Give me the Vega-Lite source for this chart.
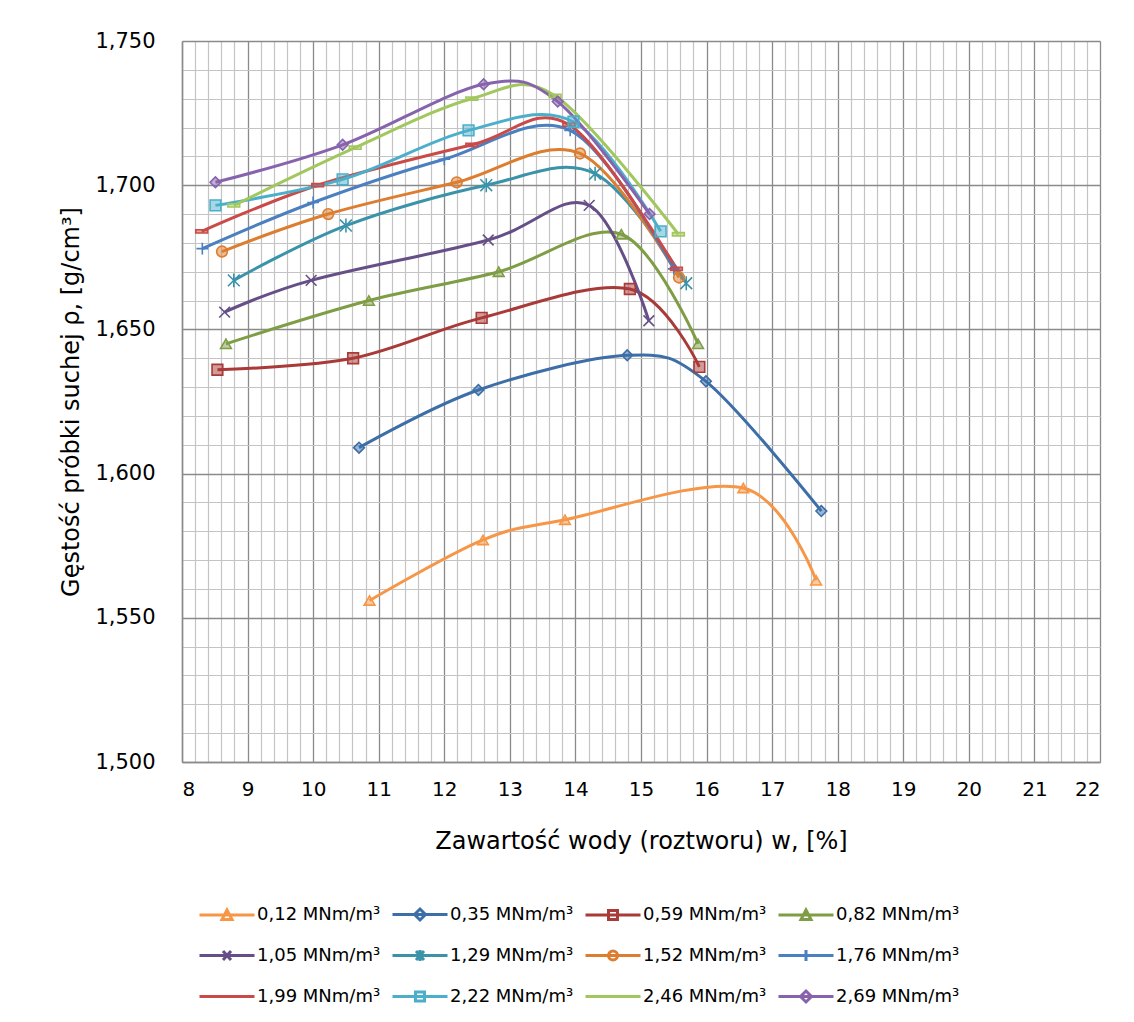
{
  "$schema": "https://vega.github.io/schema/vega-lite/v6.json",
  "width": 918,
  "height": 721,
  "autosize": {"type": "none"},
  "padding": {"left": 182, "top": 41, "right": 34, "bottom": 260},
  "background": "white",
  "config": {
    "view": {"stroke": null},
    "font": "DejaVu Sans",
    "axis": {"labelColor": "#000000", "titleColor": "#000000", "titleFontWeight": "normal"}
  },
  "data": {
    "values": [
      {"s": "0,12 MNm/m³", "w": 10.86, "rho": 1.556},
      {"s": "0,12 MNm/m³", "w": 12.59, "rho": 1.577},
      {"s": "0,12 MNm/m³", "w": 13.84, "rho": 1.584},
      {"s": "0,12 MNm/m³", "w": 16.56, "rho": 1.595},
      {"s": "0,12 MNm/m³", "w": 17.67, "rho": 1.563},
      {"s": "0,35  MNm/m³", "w": 10.70, "rho": 1.609},
      {"s": "0,35  MNm/m³", "w": 12.52, "rho": 1.629},
      {"s": "0,35  MNm/m³", "w": 14.79, "rho": 1.641},
      {"s": "0,35  MNm/m³", "w": 15.99, "rho": 1.632},
      {"s": "0,35  MNm/m³", "w": 17.75, "rho": 1.587},
      {"s": "0,59  MNm/m³", "w": 8.54, "rho": 1.636},
      {"s": "0,59  MNm/m³", "w": 10.61, "rho": 1.640},
      {"s": "0,59  MNm/m³", "w": 12.57, "rho": 1.654},
      {"s": "0,59  MNm/m³", "w": 14.83, "rho": 1.664},
      {"s": "0,59  MNm/m³", "w": 15.89, "rho": 1.637},
      {"s": "0,82 MNm/m³", "w": 8.67, "rho": 1.645},
      {"s": "0,82 MNm/m³", "w": 10.85, "rho": 1.660},
      {"s": "0,82 MNm/m³", "w": 12.83, "rho": 1.670},
      {"s": "0,82 MNm/m³", "w": 14.70, "rho": 1.683},
      {"s": "0,82 MNm/m³", "w": 15.87, "rho": 1.645},
      {"s": "1,05  MNm/m³", "w": 8.65, "rho": 1.656},
      {"s": "1,05  MNm/m³", "w": 9.97, "rho": 1.667},
      {"s": "1,05  MNm/m³", "w": 12.67, "rho": 1.681},
      {"s": "1,05  MNm/m³", "w": 14.21, "rho": 1.693},
      {"s": "1,05  MNm/m³", "w": 15.12, "rho": 1.653},
      {"s": "1,29 MNm/m³", "w": 8.79, "rho": 1.667},
      {"s": "1,29 MNm/m³", "w": 10.50, "rho": 1.686},
      {"s": "1,29 MNm/m³", "w": 12.64, "rho": 1.700},
      {"s": "1,29 MNm/m³", "w": 14.30, "rho": 1.704},
      {"s": "1,29 MNm/m³", "w": 15.69, "rho": 1.666},
      {"s": "1,52 MNm/m³", "w": 8.61, "rho": 1.677},
      {"s": "1,52 MNm/m³", "w": 10.23, "rho": 1.690},
      {"s": "1,52 MNm/m³", "w": 12.19, "rho": 1.701},
      {"s": "1,52 MNm/m³", "w": 14.07, "rho": 1.711},
      {"s": "1,52 MNm/m³", "w": 15.58, "rho": 1.668},
      {"s": "1,76  MNm/m³", "w": 8.31, "rho": 1.678},
      {"s": "1,76  MNm/m³", "w": 10.00, "rho": 1.694},
      {"s": "1,76  MNm/m³", "w": 12.00, "rho": 1.709},
      {"s": "1,76  MNm/m³", "w": 13.92, "rho": 1.719},
      {"s": "1,76  MNm/m³", "w": 15.50, "rho": 1.671},
      {"s": "1,99  MNm/m³", "w": 8.30, "rho": 1.684},
      {"s": "1,99  MNm/m³", "w": 10.07, "rho": 1.700},
      {"s": "1,99  MNm/m³", "w": 12.42, "rho": 1.714},
      {"s": "1,99  MNm/m³", "w": 13.90, "rho": 1.721},
      {"s": "1,99  MNm/m³", "w": 15.54, "rho": 1.671},
      {"s": "2,22  MNm/m³", "w": 8.51, "rho": 1.693},
      {"s": "2,22  MNm/m³", "w": 10.45, "rho": 1.702},
      {"s": "2,22  MNm/m³", "w": 12.37, "rho": 1.719},
      {"s": "2,22  MNm/m³", "w": 13.97, "rho": 1.722},
      {"s": "2,22  MNm/m³", "w": 15.30, "rho": 1.684},
      {"s": "2,46  MNm/m³", "w": 8.79, "rho": 1.693},
      {"s": "2,46  MNm/m³", "w": 10.64, "rho": 1.713},
      {"s": "2,46  MNm/m³", "w": 12.42, "rho": 1.730},
      {"s": "2,46  MNm/m³", "w": 13.69, "rho": 1.731},
      {"s": "2,46  MNm/m³", "w": 15.57, "rho": 1.683},
      {"s": "2,69  MNm/m³", "w": 8.51, "rho": 1.701},
      {"s": "2,69  MNm/m³", "w": 10.45, "rho": 1.714},
      {"s": "2,69  MNm/m³", "w": 12.60, "rho": 1.735},
      {"s": "2,69  MNm/m³", "w": 13.73, "rho": 1.729},
      {"s": "2,69  MNm/m³", "w": 15.13, "rho": 1.690}
    ]
  },
  "layer": [
    {
      "mark": {"type": "line", "interpolate": "cardinal", "strokeWidth": 3},
      "encoding": {
        "x": {"field": "w", "type": "quantitative", "scale": {"domain": [8, 22], "nice": false, "zero": false},
          "axis": {"orient": "top", "values": [8.2,8.4,8.6,8.8,9.2,9.4,9.6,9.8,10.2,10.4,10.6,10.8,11.2,11.4,11.6,11.8,12.2,12.4,12.6,12.8,13.2,13.4,13.6,13.8,14.2,14.4,14.6,14.8,15.2,15.4,15.6,15.8,16.2,16.4,16.6,16.8,17.2,17.4,17.6,17.8,18.2,18.4,18.6,18.8,19.2,19.4,19.6,19.8,20.2,20.4,20.6,20.8,21.2,21.4,21.6,21.8],
            "grid": true, "gridColor": "#c4c4c4", "gridWidth": 1.2, "labels": false, "ticks": false, "domain": false, "title": null}},
        "y": {"field": "rho", "type": "quantitative", "scale": {"domain": [1.5, 1.75], "nice": false, "zero": false},
          "axis": {"orient": "right", "values": [1.51,1.52,1.53,1.54,1.56,1.57,1.58,1.59,1.61,1.62,1.63,1.64,1.66,1.67,1.68,1.69,1.71,1.72,1.73,1.74],
            "grid": true, "gridColor": "#c4c4c4", "gridWidth": 1.2, "labels": false, "ticks": false, "domain": false, "title": null}},
        "color": {"field": "s", "type": "nominal", "legend": null,
          "scale": {"domain": ["0,12 MNm/m³","0,35  MNm/m³","0,59  MNm/m³","0,82 MNm/m³","1,05  MNm/m³","1,29 MNm/m³","1,52 MNm/m³","1,76  MNm/m³","1,99  MNm/m³","2,22  MNm/m³","2,46  MNm/m³","2,69  MNm/m³"],
            "range": ["#F79646","#3C6EA8","#A83A38","#7E9D45","#664F87","#3A93A9","#DC7D2F","#4A7FC0","#C94A47","#4BAFCC","#A2C75E","#8663AC"]}}
      }
    },
    {
      "mark": {"type": "point", "filled": true, "fillOpacity": 0.5, "strokeWidth": 1.6, "opacity": 1, "size": 115},
      "encoding": {
        "x": {"field": "w", "type": "quantitative", "scale": {"domain": [8, 22], "nice": false, "zero": false},
          "axis": {"orient": "bottom", "values": [8,9,10,11,12,13,14,15,16,17,18,19,20,21,22],
            "grid": true, "gridColor": "#8a8a8a", "gridWidth": 1.3, "ticks": false, "domain": true, "domainColor": "#8a8a8a", "domainWidth": 1.5,
            "labelFontSize": 20, "labelPadding": 17, "title": "Zawartość wody (roztworu) w, [%]", "titleFontSize": 24, "titlePadding": 30}},
        "y": {"field": "rho", "type": "quantitative", "scale": {"domain": [1.5, 1.75], "nice": false, "zero": false},
          "axis": {"orient": "left", "values": [1.5,1.55,1.6,1.65,1.7,1.75],
            "grid": true, "gridColor": "#8a8a8a", "gridWidth": 1.3, "ticks": false, "domain": true, "domainColor": "#8a8a8a", "domainWidth": 1.5,
            "labelExpr": "replace(format(datum.value, '.3f'), '.', ',')",
            "labelFontSize": 21, "labelPadding": 27, "title": "Gęstość próbki suchej ρ, [g/cm³]", "titleFontSize": 24, "titlePadding": 11}},
        "fill": {"field": "s", "type": "nominal", "legend": null,
          "scale": {"domain": ["0,12 MNm/m³","0,35  MNm/m³","0,59  MNm/m³","0,82 MNm/m³","1,05  MNm/m³","1,29 MNm/m³","1,52 MNm/m³","1,76  MNm/m³","1,99  MNm/m³","2,22  MNm/m³","2,46  MNm/m³","2,69  MNm/m³"],
            "range": ["#F79646","#3C6EA8","#A83A38","#7E9D45","#664F87","#3A93A9","#DC7D2F","#4A7FC0","#C94A47","#4BAFCC","#A2C75E","#8663AC"]}},
        "stroke": {"field": "s", "type": "nominal", "legend": null,
          "scale": {"domain": ["0,12 MNm/m³","0,35  MNm/m³","0,59  MNm/m³","0,82 MNm/m³","1,05  MNm/m³","1,29 MNm/m³","1,52 MNm/m³","1,76  MNm/m³","1,99  MNm/m³","2,22  MNm/m³","2,46  MNm/m³","2,69  MNm/m³"],
            "range": ["#F79646","#3C6EA8","#A83A38","#7E9D45","#664F87","#3A93A9","#DC7D2F","#4A7FC0","#C94A47","#4BAFCC","#A2C75E","#8663AC"]}},
        "shape": {"field": "s", "type": "nominal", "legend": null,
          "scale": {"domain": ["0,12 MNm/m³","0,35  MNm/m³","0,59  MNm/m³","0,82 MNm/m³","1,05  MNm/m³","1,29 MNm/m³","1,52 MNm/m³","1,76  MNm/m³","1,99  MNm/m³","2,22  MNm/m³","2,46  MNm/m³","2,69  MNm/m³"],
            "range": ["triangle-up","diamond","square","triangle-up","M-1,-1L1,1M-1,1L1,-1","M-1.1,-1.1L1.1,1.1M-1.1,1.1L1.1,-1.1M0,-1.3L0,1.3","circle","M-1.1,0L1.1,0M0,-1.1L0,1.1","M-1.1,-0.3L1.1,-0.3L1.1,0.3L-1.1,0.3Z","square","M-1.1,-0.3L1.1,-0.3L1.1,0.3L-1.1,0.3Z","diamond"]}}
      }
    },
    {
      "mark": {"type": "point", "filled": false, "opacity": 0, "strokeWidth": 3},
      "encoding": {
        "x": {"field": "w", "type": "quantitative", "scale": {"domain": [8, 22], "nice": false, "zero": false}, "axis": null},
        "y": {"field": "rho", "type": "quantitative", "scale": {"domain": [1.5, 1.75], "nice": false, "zero": false}, "axis": null},
        "color": {"field": "s", "type": "nominal",
          "scale": {"domain": ["0,12 MNm/m³","0,35  MNm/m³","0,59  MNm/m³","0,82 MNm/m³","1,05  MNm/m³","1,29 MNm/m³","1,52 MNm/m³","1,76  MNm/m³","1,99  MNm/m³","2,22  MNm/m³","2,46  MNm/m³","2,69  MNm/m³"],
            "range": ["#F79646","#3C6EA8","#A83A38","#7E9D45","#664F87","#3A93A9","#DC7D2F","#4A7FC0","#C94A47","#4BAFCC","#A2C75E","#8663AC"]},
          "legend": {"orient": "none", "legendX": 16, "legendY": 862, "columns": 4, "direction": "horizontal", "title": null,
            "symbolSize": 400, "symbolStrokeWidth": 3, "symbolOpacity": 1, "labelFontSize": 18, "labelFont": "DejaVu Sans", "labelColor": "#000000",
            "labelOffset": 36, "columnPadding": 0, "rowPadding": 18, "gridAlign": "all", "labelLimit": 300}},
        "shape": {"field": "s", "type": "nominal",
          "scale": {"domain": ["0,12 MNm/m³","0,35  MNm/m³","0,59  MNm/m³","0,82 MNm/m³","1,05  MNm/m³","1,29 MNm/m³","1,52 MNm/m³","1,76  MNm/m³","1,99  MNm/m³","2,22  MNm/m³","2,46  MNm/m³","2,69  MNm/m³"],
            "range": [
              "M-1,0L4.5,0M1.25,0.45L2.25,0.45L1.75,-0.5Z",
              "M-1,0L4.5,0M1.75,-0.55L2.3,0L1.75,0.55L1.2,0Z",
              "M-1,0L4.5,0M1.3,-0.45L2.2,-0.45L2.2,0.45L1.3,0.45Z",
              "M-1,0L4.5,0M1.25,0.45L2.25,0.45L1.75,-0.5Z",
              "M-1,0L4.5,0M1.35,-0.45L2.15,0.45M1.35,0.45L2.15,-0.45",
              "M-1,0L4.5,0M1.35,-0.45L2.15,0.45M1.35,0.45L2.15,-0.45M1.75,-0.55L1.75,0.55",
              "M-1,0L4.5,0M1.3,0A0.45,0.45 0 1,0 2.2,0A0.45,0.45 0 1,0 1.3,0",
              "M-1,0L4.5,0M1.75,-0.55L1.75,0.55",
              "M-1,0L4.5,0",
              "M-1,0L4.5,0M1.3,-0.45L2.2,-0.45L2.2,0.45L1.3,0.45Z",
              "M-1,0L4.5,0",
              "M-1,0L4.5,0M1.75,-0.55L2.3,0L1.75,0.55L1.2,0Z"
            ]}}
      }
    }
  ],
  "resolve": {"scale": {"color": "independent", "shape": "independent"}, "axis": {"x": "independent", "y": "independent"}}
}
